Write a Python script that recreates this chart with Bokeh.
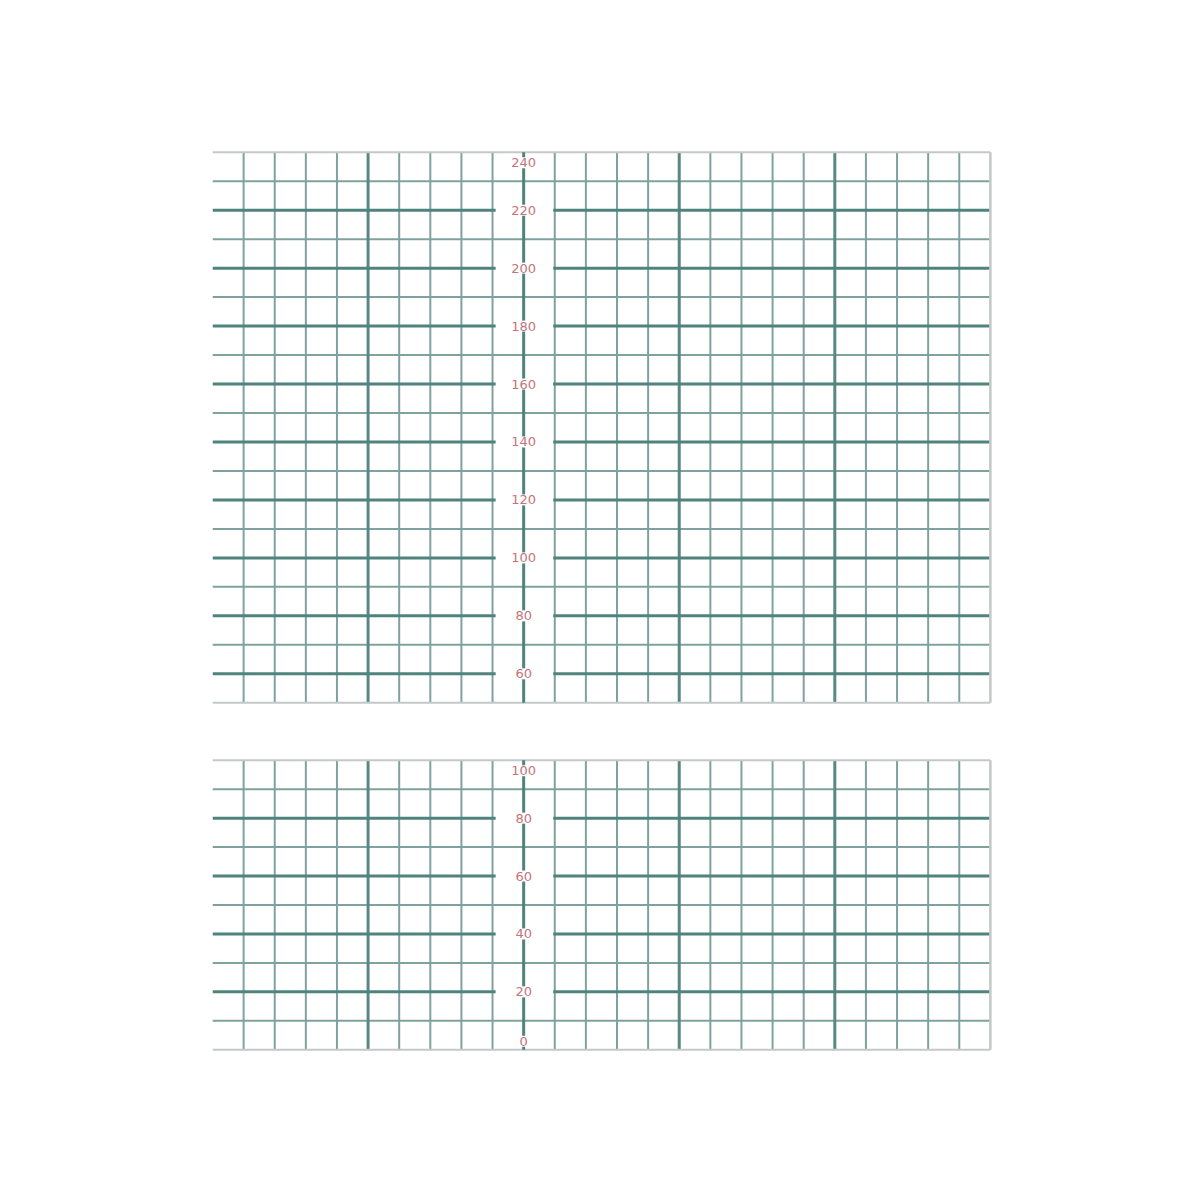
from bokeh.plotting import figure
from bokeh.models import Range1d, ColumnDataSource
from bokeh.layouts import column
from bokeh.embed import file_html
from bokeh.resources import INLINE
from bokeh.core.properties import value

# ---- data ----
reg_cols = [1, 2, 3, 4, 6, 7, 8, 9, 11, 12, 13, 14, 16, 17, 18, 19, 21, 22, 23, 24]
thick_cols = [5, 15, 20]
center_col = 10
right_col = 25
n_cols = 25

top_min, top_max = 50, 240
top_minor = [70, 90, 110, 130, 150, 170, 190, 210, 230]
top_major = [60, 80, 100, 120, 140, 160, 180, 200, 220]
top_labels = [60, 80, 100, 120, 140, 160, 180, 200, 220]
top_edge_label = 240

bot_min, bot_max = 0, 100
bot_minor = [10, 30, 50, 70, 90]
bot_major = [20, 40, 60, 80]
bot_labels = [20, 40, 60, 80]
bot_top_label = 100
bot_bottom_label = 0

# ---- style ----
MINOR_C = "#7fa29e"
MAJOR_C = "#4f847d"
THICK_C = "#5a8782"
EDGE_C = "#c3c9c8"
LABEL_C = "#c4747a"
GAP_L, GAP_R = 9.1, 10.95
PAD = 0.6


def panel(ymin, ymax, minor, major, labels, top_lab, bot_lab, frame_h, border_top):
    p = figure(output_backend="svg", toolbar_location=None,
               x_range=Range1d(0, n_cols + 0.1), y_range=Range1d(ymin - PAD, ymax + PAD),
               frame_width=781, frame_height=frame_h,
               min_border_left=212, min_border_right=10,
               min_border_top=border_top, min_border_bottom=0)
    p.xaxis.visible = False
    p.yaxis.visible = False
    p.grid.visible = False
    p.outline_line_color = None
    p.background_fill_color = "white"

    # minor horizontal lines (full width)
    p.segment(x0=[0] * len(minor), x1=[n_cols] * len(minor), y0=minor, y1=minor,
              line_color=MINOR_C, line_width=2)
    # regular vertical lines
    p.segment(x0=reg_cols, x1=reg_cols, y0=[ymin] * len(reg_cols), y1=[ymax] * len(reg_cols),
              line_color=MINOR_C, line_width=2)
    # thick vertical lines
    p.segment(x0=thick_cols, x1=thick_cols, y0=[ymin] * len(thick_cols), y1=[ymax] * len(thick_cols),
              line_color=THICK_C, line_width=3)
    # major horizontal lines with gap at the axis
    p.segment(x0=[0] * len(major), x1=[GAP_L] * len(major), y0=major, y1=major,
              line_color=MAJOR_C, line_width=3)
    p.segment(x0=[GAP_R] * len(major), x1=[n_cols] * len(major), y0=major, y1=major,
              line_color=MAJOR_C, line_width=3)
    # borders
    p.segment(x0=[0, 0], x1=[n_cols, n_cols], y0=[ymin, ymax], y1=[ymin, ymax],
              line_color=EDGE_C, line_width=2)
    p.segment(x0=[right_col], x1=[right_col], y0=[ymin], y1=[ymax],
              line_color=EDGE_C, line_width=2.5)
    # center axis line
    p.segment(x0=[center_col], x1=[center_col], y0=[ymin], y1=[ymax],
              line_color=MAJOR_C, line_width=3)

    common = dict(text_color=LABEL_C, text_font=value("DejaVu Sans"),
                  text_font_size="13px", text_align="center",
                  background_fill_color="white", padding=1)
    src = ColumnDataSource(dict(x=[center_col] * len(labels), y=labels,
                                t=[str(v) for v in labels]))
    p.text(x="x", y="y", text="t", source=src, text_baseline="middle", **common)
    if top_lab is not None:
        p.text(x=[center_col], y=[ymax], text=[str(top_lab)], text_baseline="top",
               y_offset=5, **common)
    if bot_lab is not None:
        p.text(x=[center_col], y=[ymin], text=[str(bot_lab)], text_baseline="bottom",
               y_offset=-3, **common)
    return p


p1 = panel(top_min, top_max, top_minor, top_major, top_labels, top_edge_label, None, 554, 150)
p2 = panel(bot_min, bot_max, bot_minor, bot_major, bot_labels, bot_top_label, bot_bottom_label, 293, 54)

layout = column(p1, p2)
open("out.html", "w").write(file_html(layout, INLINE))
